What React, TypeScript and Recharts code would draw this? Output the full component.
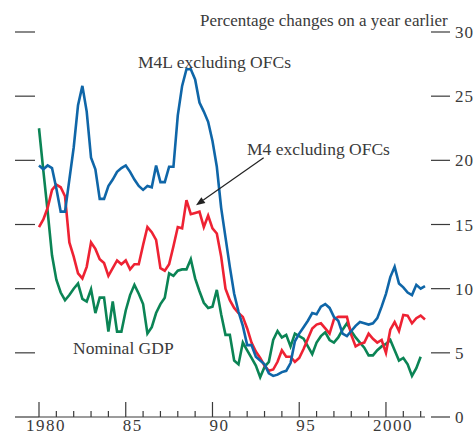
import React from 'react';
import { Line, LineChart, ReferenceLine, XAxis, YAxis } from 'recharts';

// quarterly, 1980 Q1 onwards
const m4lExOfcs = [
  19.6, 19.3, 19.6, 19.4, 17.8, 16.0, 16.0, 18.5, 21.0, 24.3,
  25.8, 23.8, 20.2, 19.3, 17.0, 17.0, 18.0, 18.5, 19.1, 19.4,
  19.6, 19.1, 18.5, 18.0, 17.7, 18.0, 17.9, 19.6, 18.3, 18.3,
  19.5, 19.5, 23.5, 25.8, 27.1, 27.1, 26.3, 24.5, 23.8, 23.0,
  21.5, 19.5, 16.3, 14.0, 11.7, 9.6, 8.2, 7.1, 5.6, 5.6,
  4.7, 4.4, 4.1, 3.4, 3.2, 3.3, 3.5, 3.6, 4.2, 5.9,
  6.5, 7.0, 7.5, 8.1, 8.0, 8.6, 8.8, 8.5, 7.8, 7.5,
  6.5, 6.3, 6.7, 7.1, 7.4, 7.3, 7.2, 7.3, 7.7, 8.6,
  9.6, 10.9, 11.7, 10.4, 10.1, 9.7, 9.5, 10.3, 10.0, 10.2,
];

const m4ExOfcs = [
  14.8, 15.4, 16.3, 17.7, 18.1, 17.9, 17.2, 13.6, 12.5, 11.2,
  10.8, 11.7, 13.6, 13.1, 12.3, 12.0, 11.0, 11.6, 12.2, 11.9,
  12.2, 11.5, 11.9, 11.9, 13.4, 14.8, 14.4, 13.8, 11.6, 11.4,
  11.9, 13.3, 14.8, 14.7, 16.9, 15.8, 15.9, 16.0, 14.8, 15.7,
  14.7, 14.3, 12.5, 10.0, 9.1, 8.5, 8.1, 7.8, 6.9, 5.8,
  5.1, 4.6, 4.0, 3.6, 3.7, 4.3, 5.2, 4.7, 4.7, 4.3,
  4.6, 5.3, 6.1, 6.9, 7.2, 7.3, 6.9, 6.5, 7.6, 7.8,
  7.8, 7.8, 6.4, 5.5, 5.7, 5.8, 6.5, 6.1, 5.8, 6.0,
  5.0, 6.8, 7.4, 6.7, 7.95, 7.9, 7.3, 7.7, 7.9, 7.6,
];

const nominalGdp = [
  22.5, 19.2, 16.0, 12.6, 10.7, 9.7, 9.1, 9.5, 10.0, 10.4,
  9.2, 9.0, 9.95, 8.1, 9.3, 9.3, 6.65, 9.0, 6.65, 6.65,
  8.3, 9.5, 10.3, 9.6, 8.8, 6.5, 7.0, 8.1, 8.8, 9.3,
  11.2, 11.0, 11.4, 11.5, 11.5, 12.3, 10.8, 9.8, 8.9, 8.5,
  8.6, 9.9, 8.0, 6.4, 6.4, 4.4, 4.1, 5.8, 5.2, 4.6,
  4.0, 3.1, 3.9, 4.3, 6.0, 6.7, 6.2, 6.4, 5.5, 6.5,
  6.3, 6.1, 5.5, 4.9, 5.8, 6.3, 6.6, 6.0, 5.8, 6.2,
  6.8, 7.3, 6.7, 6.2, 5.8, 5.4, 4.8, 4.8, 5.2, 5.5,
  5.7, 6.0, 5.2, 4.4, 4.6, 4.1, 3.2, 3.8, 4.7, null,
];

const yearTicks = [
  1980, 1981, 1982, 1983, 1984, 1985, 1986, 1987, 1988, 1989, 1990,
  1991, 1992, 1993, 1994, 1995, 1996, 1997, 1998, 1999, 2000, 2001, 2002,
];
const yearLabels: Record<number, string> = { 1980: '1980', 1985: '85', 1990: '90', 1995: '95', 2000: '2000' };
const valueTicks = [0, 5, 10, 15, 20, 25, 30];

const data = m4lExOfcs.map((v, i) => ({
  t: 1980 + i / 4,
  m4l: v,
  m4: m4ExOfcs[i],
  gdp: nominalGdp[i],
}));

const FONT = '"Liberation Serif", "DejaVu Serif", serif';
const INK = '#3a3a3a';

const textStyle: React.CSSProperties = {
  position: 'absolute',
  fontFamily: FONT,
  fontSize: 17,
  color: INK,
  whiteSpace: 'nowrap',
  lineHeight: 1,
};

const YearTick = (p: any) => {
  const v = p.payload.value;
  const label = yearLabels[v];
  const major = label !== undefined;
  return (
    <g>
      <line x1={p.x} x2={p.x} y1={p.y} y2={p.y - (major ? 15 : 6)} stroke={INK} strokeWidth={1.2} />
      {major && (
        <text x={p.x + 7} y={p.y + 14} textAnchor="middle" fontFamily={FONT} fontSize={17} letterSpacing={1.5} fill={INK}>
          {label}
        </text>
      )}
    </g>
  );
};

const LeftTick = (p: any) => (
  <line x1={15} x2={p.payload.value === 0 ? 39 : 35} y1={p.y} y2={p.y} stroke={INK} strokeWidth={1.2} />
);

const RightTick = (p: any) => (
  <g>
    <line x1={431} x2={450} y1={p.y} y2={p.y} stroke={INK} strokeWidth={1.2} />
    <text x={455} y={p.y + 6} fontFamily={FONT} fontSize={17} letterSpacing={1} fill={INK}>
      {p.payload.value}
    </text>
  </g>
);

const Arrow = (p: any) => {
  const { x1, y1, x2, y2 } = p;
  const a = Math.atan2(y2 - y1, x2 - x1);
  const len = 9;
  const w = 3.5;
  const bx = x2 - len * Math.cos(a);
  const by = y2 - len * Math.sin(a);
  const pts = `${x2},${y2} ${bx + w * Math.sin(a)},${by - w * Math.cos(a)} ${bx - w * Math.sin(a)},${by + w * Math.cos(a)}`;
  return (
    <g>
      <line x1={x1} y1={y1} x2={bx} y2={by} stroke="#222" strokeWidth={1.2} />
      <polygon points={pts} fill="#222" />
    </g>
  );
};

export default function App() {
  return (
    <div style={{ position: 'absolute', left: 0, top: 0, width: 474, height: 434, background: '#fff' }}>
      <LineChart width={474} height={434} data={data} margin={{ top: 32, right: 0, bottom: 0, left: 0 }}>
        <XAxis
          dataKey="t"
          type="number"
          domain={[1980, 2002.25]}
          ticks={yearTicks}
          interval={0}
          height={17}
          tickSize={0}
          tickMargin={0}
          tickLine={false}
          axisLine={{ stroke: INK, strokeWidth: 1.2 }}
          tick={<YearTick />}
        />
        <YAxis
          yAxisId="l"
          orientation="left"
          width={39}
          domain={[0, 30]}
          ticks={valueTicks}
          interval={0}
          axisLine={false}
          tickLine={false}
          tick={<LeftTick />}
        />
        <YAxis
          yAxisId="r"
          orientation="right"
          width={49}
          domain={[0, 30]}
          ticks={valueTicks}
          interval={0}
          axisLine={false}
          tickLine={false}
          tick={<RightTick />}
        />
        <Line yAxisId="r" type="linear" dataKey="gdp" stroke="#0b8455" strokeWidth={2.6} dot={false} isAnimationActive={false} />
        <Line yAxisId="l" type="linear" dataKey="m4" stroke="#ee2233" strokeWidth={2.6} dot={false} isAnimationActive={false} />
        <Line yAxisId="l" type="linear" dataKey="m4l" stroke="#0f66a8" strokeWidth={2.6} dot={false} isAnimationActive={false} />
        <ReferenceLine
          yAxisId="l"
          segment={[{ x: 1992.95, y: 20.2 }, { x: 1989.05, y: 16.5 }]}
          ifOverflow="visible"
          shape={<Arrow />}
        />
      </LineChart>
      <div style={{ ...textStyle, left: 200, top: 12 }}>Percentage changes on a year earlier</div>
      <div style={{ ...textStyle, fontSize: 17.5, left: 138, top: 54 }}>M4L excluding OFCs</div>
      <div style={{ ...textStyle, fontSize: 17.5, left: 247, top: 141 }}>M4 excluding OFCs</div>
      <div style={{ ...textStyle, fontSize: 17.5, left: 73, top: 340 }}>Nominal GDP</div>
    </div>
  );
}
